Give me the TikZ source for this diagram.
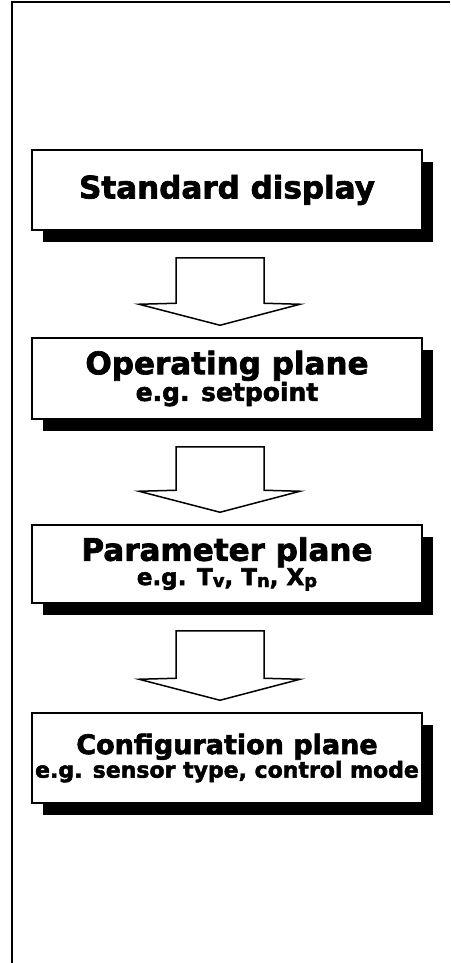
\documentclass[tikz,border=0pt]{standalone}
\usepackage{fontspec}
\newfontfamily\planefont[FakeBold=2.2]{DejaVu Sans Bold}
\usetikzlibrary{calc,shadows}

\tikzset{
    plane/.style={draw,line width=1.5pt,fill=white,minimum width=390pt,align=center,
        inner sep=0pt,font=\planefont,
        drop shadow={shadow xshift=11pt,shadow yshift=-12pt,fill=black,opacity=1}},
    blockarr/.style={draw,line width=1.5pt,fill=white,line join=miter},
}
\newcommand{\fs}[2]{\fontsize{#1}{#2}\selectfont}
\newcommand{\sub}[1]{\raisebox{-2pt}{\fs{18}{18}#1}}
\newcommand{\planearrow}[2]{%
    \draw[blockarr] let \p1=($(#1.south)+(-7,27)$), \p2=($(#2.north)+(-7,-12)$) in
        (\x1-44pt,\y1) -- (\x1+44pt,\y1) -- (\x1+44pt,\y2+22pt) -- (\x1+80pt,\y2+21pt)
        -- (\x2,\y2) -- (\x1-81pt,\y2+21pt) -- (\x1-44pt,\y2+22pt) -- cycle;}

\begin{document}
\begin{tikzpicture}[x=1pt,y=-1pt]
        \useasboundingbox (0,0) rectangle (450,963);
        % frame
        \draw[line width=1.2pt] (12,963) -- (12,2) -- (450,2);
        % planes
        \node[plane,minimum height=80pt] (std) at (227,190) {\fs{31}{34}Standard display};
        \node[plane,minimum height=81pt] (op) at (227,378.5) {\fs{31}{34}Operating plane\\\fs{25}{24}e.g. setpoint};
        \node[plane,minimum height=78pt] (par) at (227,564) {\fs{31}{34}Parameter plane\\\fs{23}{23}e.g. T\sub{v}, T\sub{n}, X\sub{p}};
        \node[plane,minimum height=90pt] (conf) at (227,758) {\fs{27}{30}Configuration plane\\\fs{22}{25}e.g. sensor type, control mode};
        % arrows
        \planearrow{std}{op}
        \planearrow{op}{par}
        \planearrow{par}{conf}
\end{tikzpicture}
\end{document}
